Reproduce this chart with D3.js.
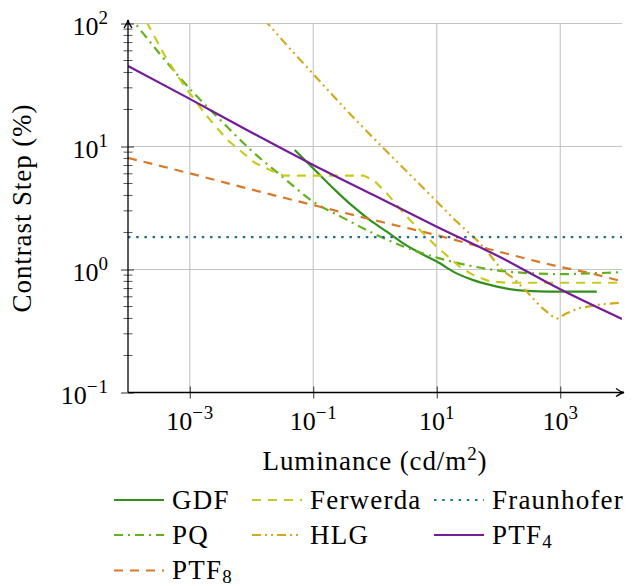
<!DOCTYPE html>
<html>
<head>
<meta charset="utf-8">
<script src="https://cdn.jsdelivr.net/npm/d3@7"></script>
<style>
  body { margin: 0; background: #fff; }
  svg text { font-family: "Liberation Serif", "DejaVu Serif", serif; fill: #000; }
</style>
</head>
<body>
<svg id="chart" width="633" height="586"></svg>
<script>
// luminance (cd/m2) and contrast step (%)
var gdfLum  = [0.05, 0.078, 0.128, 0.24, 0.445, 0.83, 1.55, 2.87, 5.36, 10, 21, 39, 73, 136, 286, 680, 3900];
var gdfStep = [9.38, 7.52, 5.86, 4.30, 3.24, 2.52, 2.03, 1.63, 1.36, 1.16, 0.93, 0.82, 0.75, 0.70, 0.67, 0.66, 0.66];

var pqLum  = [1e-4, 3e-4, 1e-3, 3e-3, 1e-2, 3e-2, 0.1, 0.3, 1, 3, 10, 30, 100, 300, 1000, 3000, 1e4];
var pqStep = [119, 59.7, 29.5, 16.8, 9.25, 5.8, 3.56, 2.64, 1.94, 1.53, 1.25, 1.09, 0.98, 0.935, 0.917, 0.93, 0.95];

var ferwLum  = [2.0e-4, 4.0e-4, 7.9e-4, 1.8e-3, 4.0e-3, 0.0114, 0.021, 0.033, 0.65, 0.94, 1.55, 3.26, 6.05, 10, 23.8, 39, 73, 136, 1e4];
var ferwStep = [103, 54, 31.8, 18.2, 11.4, 7.35, 6.35, 5.8, 5.8, 5.35, 4.17, 2.69, 1.97, 1.53, 1.05, 0.90, 0.80, 0.78, 0.78];

var hlgLum  = [0.016, 0.042, 0.114, 0.327, 0.735, 1.64, 3.69, 8.79, 19.8, 44.4, 72.8, 113, 174, 304, 470, 728, 895, 1270, 1960, 4400, 1e4];
var hlgStep = [108, 62.4, 36.1, 20.3, 13.3, 8.85, 5.90, 3.81, 2.52, 1.74, 1.31, 0.99, 0.85, 0.64, 0.505, 0.42, 0.40, 0.44, 0.484, 0.52, 0.537];

var fraunLum  = [1e-4, 1e4];
var fraunStep = [1.83, 1.83];

var ptf4Lum  = [1e-4, 1e-3, 1e-2, 0.1, 1, 10, 100, 1000, 1e4];
var ptf4Step = [45.1, 24.4, 13.0, 7.08, 3.97, 2.23, 1.28, 0.69, 0.396];

var ptf8Lum  = [1e-4, 1e-3, 1e-2, 0.1, 1, 10, 100, 1000, 3160, 1e4];
var ptf8Step = [8.07, 6.05, 4.47, 3.34, 2.51, 1.90, 1.40, 1.05, 0.93, 0.80];

var xTicks = [1e-3, 1e-1, 1e1, 1e3];
var yTicks = [0.1, 1, 10, 100];

var series = [
    {name: "GDF", lum: gdfLum, step: gdfStep, color: "#33901f", dash: null, curve: d3.curveMonotoneX},
    {name: "PQ", lum: pqLum, step: pqStep, color: "#62b21c", dash: "9,5,2,5", curve: d3.curveMonotoneX},
    {name: "PTF", sub: "8", lum: ptf8Lum, step: ptf8Step, color: "#d8782a", dash: "9,7", curve: d3.curveMonotoneX},
    {name: "Ferwerda", lum: ferwLum, step: ferwStep, color: "#c6cb1e", dash: "9,7", curve: d3.curveLinear},
    {name: "HLG", lum: hlgLum, step: hlgStep, color: "#d3aa1e", dash: "9,4,2,4,2,4", curve: d3.curveLinear},
    {name: "Fraunhofer", lum: fraunLum, step: fraunStep, color: "#1f6f8f", dash: "2.5,5.7", curve: d3.curveLinear},
    {name: "PTF", sub: "4", lum: ptf4Lum, step: ptf4Step, color: "#771c98", dash: null, curve: d3.curveMonotoneX}
];

function drawChart() {
    var svg = d3.select("#chart");
    var pxL = 128, pxR = 622, pxT = 23.5, pxB = 392.5;

    var scX = d3.scaleLog().domain([1e-4, 1e4]).range([pxL, pxR]);
    var scY = d3.scaleLog().domain([0.1, 100]).range([pxB, pxT]);

    // grid
    var grid = svg.append("g").attr("stroke", "#c4c4c4").attr("stroke-width", 1.1);
    grid.selectAll(".gx").data(xTicks).enter().append("line")
        .attr("x1", d => scX(d)).attr("x2", d => scX(d))
        .attr("y1", pxT).attr("y2", pxB);
    grid.selectAll(".gy").data(yTicks.slice(1)).enter().append("line")
        .attr("x1", pxL).attr("x2", pxR)
        .attr("y1", d => scY(d)).attr("y2", d => scY(d));

    // tick labels as 10 with a raised exponent
    function supLabel(sel) {
        sel.each(function (d) {
            var t = d3.select(this).text(null);
            var e = Math.round(Math.log10(d));
            t.append("tspan").text("10");
            t.append("tspan").attr("dy", -11).attr("font-size", 19)
                .attr("letter-spacing", 1)
                .text(e < 0 ? "\u2212" + (-e) : "" + e);
        });
    }

    var gx = svg.append("g").attr("transform", "translate(0," + pxB + ")")
        .call(d3.axisBottom(scX).tickValues(xTicks).tickSize(6).tickPadding(0));
    gx.select(".domain").remove();
    gx.selectAll(".tick line").attr("y1", -6).attr("y2", 6).attr("stroke", "#333");
    gx.selectAll(".tick text").attr("font-size", 26).attr("y", 37).attr("dy", 0)
        .attr("fill", "#000").attr("text-anchor", "middle").call(supLabel);

    var gy = svg.append("g").attr("transform", "translate(" + pxL + ",0)")
        .call(d3.axisLeft(scY).tickValues(yTicks).tickSize(6).tickPadding(0));
    gy.select(".domain").remove();
    gy.selectAll(".tick line").attr("x1", -7).attr("x2", 6).attr("stroke", "#333");
    gy.selectAll(".tick text").attr("font-size", 26).attr("x", -19).attr("dy", 0)
        .attr("fill", "#000").attr("y", 10.5).attr("text-anchor", "end").call(supLabel);

    var minor = [];
    [0.1, 1, 10].forEach(function (b) {
        for (var k = 2; k <= 9; k++) minor.push(b * k);
    });
    svg.append("g").selectAll("line").data(minor).enter().append("line")
        .attr("x1", pxL - 4.5).attr("x2", pxL + 4.5)
        .attr("y1", d => scY(d)).attr("y2", d => scY(d))
        .attr("stroke", "#444").attr("stroke-width", 0.9);

    // clip and curves
    svg.append("clipPath").attr("id", "plotclip").append("rect")
        .attr("x", pxL).attr("y", pxT).attr("width", pxR - pxL).attr("height", pxB - pxT);

    var plot = svg.append("g").attr("clip-path", "url(#plotclip)");
    series.forEach(function (s) {
        var pts = s.lum.map((l, i) => [l, s.step[i]]);
        var lineMaker = d3.line().x(d => scX(d[0])).y(d => scY(d[1])).curve(s.curve);
        plot.append("path")
            .attr("fill", "none").attr("stroke", s.color).attr("stroke-width", 2.2)
            .attr("stroke-dasharray", s.dash)
            .attr("d", lineMaker(pts));
    });

    // axis lines with arrows
    var axes = svg.append("g").attr("stroke", "#000").attr("fill", "none").attr("stroke-width", 1.3);
    axes.append("line").attr("x1", pxL).attr("x2", pxL).attr("y1", pxB).attr("y2", 20);
    axes.append("line").attr("x1", pxL).attr("x2", 624).attr("y1", pxB).attr("y2", pxB);
    axes.append("path").attr("d", "M" + (pxL - 4) + ",28 Q" + (pxL - 0.6) + ",23 " + pxL + ",20 Q" + (pxL + 0.6) + ",23 " + (pxL + 4) + ",28");
    axes.append("path").attr("d", "M616," + (pxB - 4) + " Q621," + (pxB - 0.6) + " 624," + pxB + " Q621," + (pxB + 0.6) + " 616," + (pxB + 4));

    // axis labels
    var xl = svg.append("text").attr("x", (pxL + pxR) / 2).attr("y", 470)
        .attr("text-anchor", "middle").attr("font-size", 27).attr("letter-spacing", 0.9);
    xl.append("tspan").text("Luminance (cd/m");
    xl.append("tspan").attr("dy", -10).attr("font-size", 19).text("2");
    xl.append("tspan").attr("dy", 10).text(")");

    svg.append("text").attr("transform", "translate(31,208) rotate(-90)")
        .attr("text-anchor", "middle").attr("font-size", 27).attr("letter-spacing", 0.9)
        .text("Contrast Step (%)");

    // legend, three columns
    var legendOrder = [0, 3, 5, 1, 4, 6, 2];
    var colX = [114, 252, 434], rowY = [500, 535, 570.5];
    var legend = svg.append("g");
    legendOrder.forEach(function (si, k) {
        var s = series[si];
        var cx = colX[k % 3], cy = rowY[Math.floor(k / 3)];
        legend.append("line")
            .attr("x1", cx).attr("x2", cx + 50).attr("y1", cy).attr("y2", cy)
            .attr("stroke", s.color).attr("stroke-width", 2.2)
            .attr("stroke-dasharray", s.dash);
        var t = legend.append("text").attr("x", cx + 58).attr("y", cy + 8.5)
            .attr("font-size", 27).attr("letter-spacing", 1.2);
        t.append("tspan").text(s.name);
        if (s.sub) t.append("tspan").attr("dy", 4).attr("font-size", 19).text(s.sub);
    });
}

drawChart();
</script>
</body>
</html>
